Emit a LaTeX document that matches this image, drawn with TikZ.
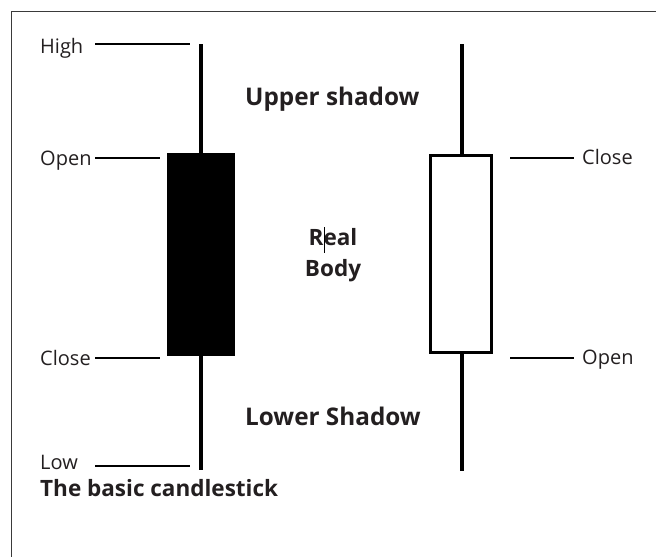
\documentclass[tikz,border=0pt]{standalone}
\usepackage{fontspec}
\setmainfont{Open Sans}
\definecolor{ink}{HTML}{231F20}
\definecolor{frame}{HTML}{3A3A3A}
\begin{document}
\begin{tikzpicture}[x=1pt,y=-1pt,
  lbl/.style={anchor=base west,inner sep=0pt,text=ink,font=\fontsize{20}{24}\selectfont},
  ttl/.style={anchor=base west,inner sep=0pt,text=ink,font=\fontsize{22.5}{27}\selectfont\bfseries},
  bigttl/.style={ttl,font=\fontsize{24.3}{29}\selectfont\bfseries},
  leader/.style={draw=black,line width=1.3pt},
  wick/.style={draw=black,line width=4pt},
  framerule/.style={draw=frame,line width=1pt}]
\useasboundingbox (0,0) rectangle (656,557);
% frame
\coordinate (ftl) at (11,11);
\coordinate (ftr) at (656,11);
\coordinate (fbl) at (11,557);
\draw[framerule] (ftr) -- (ftl) -- (fbl);
% left (bearish) candle
\coordinate (lwt) at (201,44);
\coordinate (lwb) at (201,470);
\draw[wick] (lwt) -- (lwb);
\node[fill=black,inner sep=0pt,minimum width=68pt,minimum height=203pt] (lbody) at (201,254.5) {};
% right (bullish) candle
\coordinate (rwt) at (462,44);
\coordinate (rwb) at (462,471);
\draw[wick] (rwt) -- (rwb);
\node[draw=black,fill=white,line width=3pt,inner sep=0pt,minimum width=61pt,minimum height=197pt] (rbody) at (461,254) {};
% left labels
\node[lbl] (high) at (40,53) {High};
\node[lbl] (lopen) at (40,165) {Open};
\node[lbl] (lclose) at (40,365) {Close};
\node[lbl] (low) at (40,469) {Low};
\coordinate (h1) at (95,44);   \coordinate (h2) at (190,44);
\coordinate (o1) at (95,158);  \coordinate (o2) at (160,158);
\coordinate (c1) at (95,358);  \coordinate (c2) at (160,358);
\coordinate (w1) at (95,466);  \coordinate (w2) at (190,466);
\draw[leader] (h1) -- (h2);
\draw[leader] (o1) -- (o2);
\draw[leader] (c1) -- (c2);
\draw[leader] (w1) -- (w2);
% right labels
\node[lbl] (rclose) at (582,164) {Close};
\node[lbl] (ropen) at (582,364) {Open};
\coordinate (rc1) at (510,158); \coordinate (rc2) at (574,158);
\coordinate (ro1) at (510,358); \coordinate (ro2) at (574,358);
\draw[leader] (rc1) -- (rc2);
\draw[leader] (ro1) -- (ro2);
% titles
\node[bigttl] (upper) at (245,105) {Upper shadow};
\node[bigttl] (lower) at (245,425) {Lower Shadow};
\node[ttl,anchor=base] (real) at (333,245) {Real};
\node[ttl,anchor=base] (body) at (333,276) {Body};
\coordinate (cur1) at (324,227); \coordinate (cur2) at (324,253);
\draw[black,line width=0.6pt] (cur1) -- (cur2);
\node[ttl] (caption) at (40,496) {The basic candlestick};
\end{tikzpicture}
\end{document}
